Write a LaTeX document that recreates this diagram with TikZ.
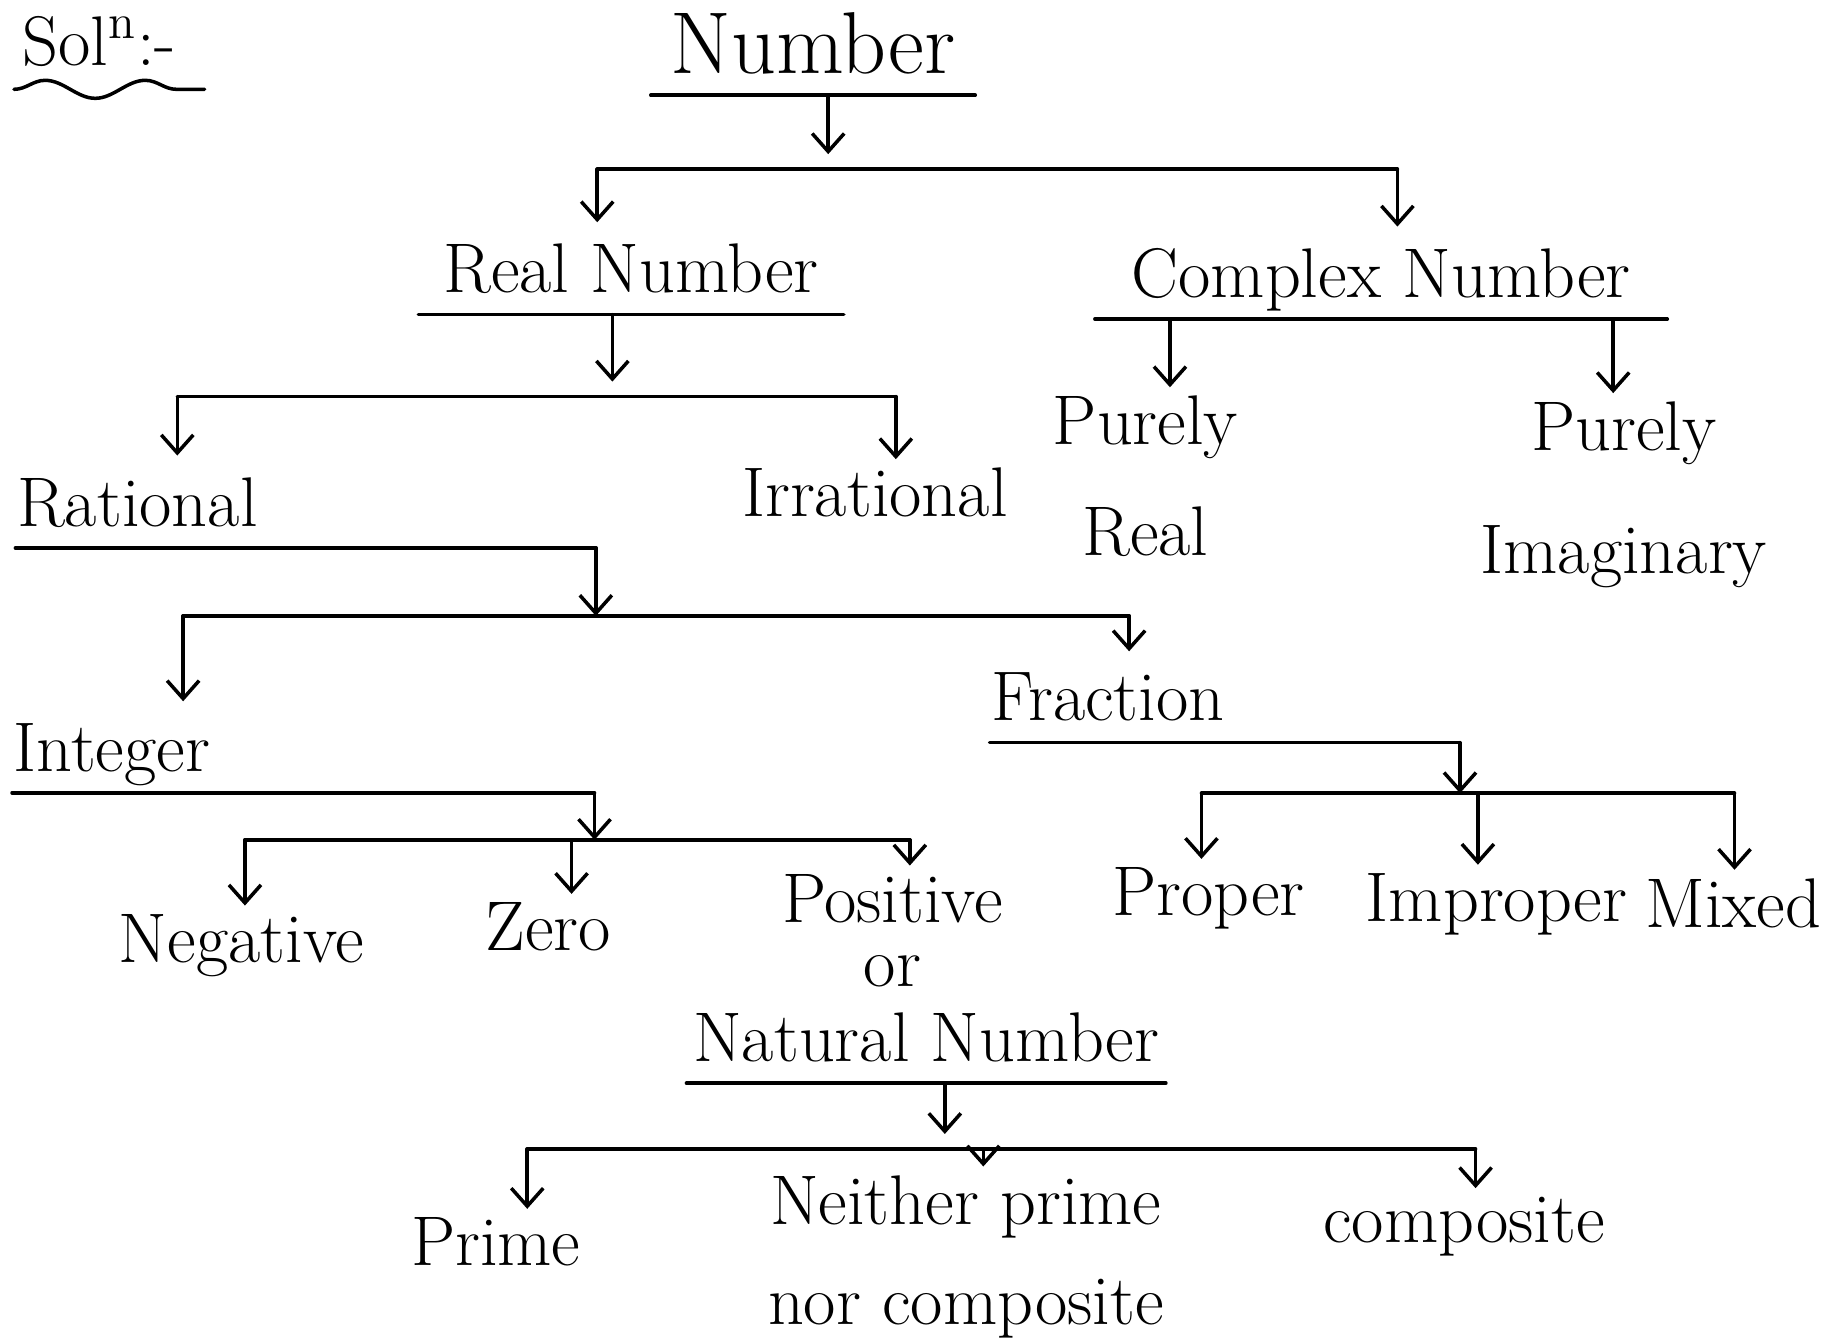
\documentclass[tikz,border=0pt]{standalone}
\usepackage{fontspec}
\usetikzlibrary{arrows.meta,decorations.pathmorphing}

\begin{document}
\begin{tikzpicture}[x=0.11665mm,y=-0.11665mm,
  line width=1pt, line cap=round, line join=round,
  lbl/.style={font=\fontsize{20}{24}\selectfont, inner sep=2pt, anchor=base},
  two/.style={lbl, anchor=north, align=center},
  ul/.style={lbl, inner xsep=0pt, inner ysep=2mm, text depth=0pt, minimum width=#1,
    append after command={(\tikzlastnode.south west) edge[-] (\tikzlastnode.south east)}},
  ull/.style={ul=#1, text width=#1, align=left},
  arr/.style={-{Straight Barb[length=1.8mm,width=3.2mm]}},
  stem/.style={arr, shorten >=1.5mm}]

  \useasboundingbox (0,0) rectangle (1568,1147);

  % heading
  \node[lbl, anchor=base west] (sol) at (12,56) {Sol\textsuperscript{n}:-};
  \draw[decorate, decoration={snake, amplitude=0.9mm, segment length=10mm}]
    ([yshift=-2.4mm]sol.base west) -- ([yshift=-2.4mm, xshift=2mm]sol.base east);

  % labels
  \node[ul=32.1mm, font=\fontsize{25}{30}\selectfont] (num) at (697,63) {Number};
  \node[ul=42.2mm] (real) at (541,251) {Real Number};
  \node[ul=56.9mm] (cplx) at (1184,255) {Complex Number};
  \node[ull=57.7mm] (rat) at (262,451) {Rational};
  \node[lbl] (irr) at (750,443) {Irrational};
  \node[two] (preal) at (982,332) {Purely\\[2.6mm] Real};
  \node[two] (pimag) at (1392,337) {Purely\\[3.8mm] Imaginary};
  \node[ull=57.9mm] (intg) at (260,661) {Integer};
  \node[ull=46.7mm] (frac) at (1050,618) {Fraction};
  \node[lbl] (neg) at (207,825) {Negative};
  \node[lbl] (zero) at (470,815) {Zero};
  \node[two] (pos) at (765,742) {Positive\\[-2mm] or};
  \node[ul=47.6mm] (nat) at (794,910) {Natural Number};
  \node[lbl] (prop) at (1036,785) {Proper};
  \node[lbl] (improp) at (1283,790) {Improper};
  \node[lbl] (mixed) at (1486,795) {Mixed};
  \node[lbl] (prime) at (425,1085) {Prime};
  \node[two] (neither) at (828,1000) {Neither prime\\[1.6mm] nor composite};
  \node[lbl] (comp) at (1255,1065) {composite};

  % bars
  \coordinate (nbL) at (512,145);  \coordinate (nbS) at (710,145);  \coordinate (nbR) at (1198,145);
  \coordinate (rbL) at (152,340);  \coordinate (rbS) at (525,340);  \coordinate (rbR) at (768,340);
  \coordinate (qbL) at (157,528);  \coordinate (qbS) at (rat.south east |- 0,528);  \coordinate (qbR) at (968,528);
  \coordinate (ibL) at (210,720);  \coordinate (ibM) at (490,720);  \coordinate (ibS) at (intg.south east |- 0,720);
  \coordinate (ibR) at (780,720);
  \coordinate (fbL) at (1030,680); \coordinate (fbM) at (1267,680); \coordinate (fbS) at (frac.south east |- 0,680);
  \coordinate (fbR) at (1487,680);
  \coordinate (pbL) at (452,985);  \coordinate (pbS) at (810,985);  \coordinate (pbM) at (843,985);
  \coordinate (pbR) at (1265,985);

  \draw (nbL) -- (nbR);
  \draw (rbL) -- (rbR);
  \draw (qbL) -- (qbR);
  \draw (ibL) -- (ibR);
  \draw (fbL) -- (fbR);
  \draw (pbL) -- (pbR);

  % stems
  \draw[stem] (nbS |- num.south) -- (nbS);
  \draw[stem] (rbS |- real.south) -- (rbS);
  \draw[arr] (rat.south east) -- (qbS);
  \draw[arr] (intg.south east) -- (ibS);
  \draw[arr] (frac.south east) -- (fbS);
  \draw[stem] (pbS |- nat.south) -- (pbS);

  % drops
  \foreach \c/\n in {nbL/real, nbR/cplx, rbL/rat, rbR/irr, qbL/intg, qbR/frac,
                     ibL/neg, ibM/zero, ibR/pos, fbL/prop, fbM/improp, fbR/mixed,
                     pbL/prime, pbM/neither, pbR/comp}
    \draw[arr] (\c) -- (\c |- \n.north);
  \foreach \x/\n in {1003/preal, 1383/pimag}
    \draw[arr] (\x,0 |- cplx.south) -- (\x,0 |- \n.north);
\end{tikzpicture}
\end{document}
